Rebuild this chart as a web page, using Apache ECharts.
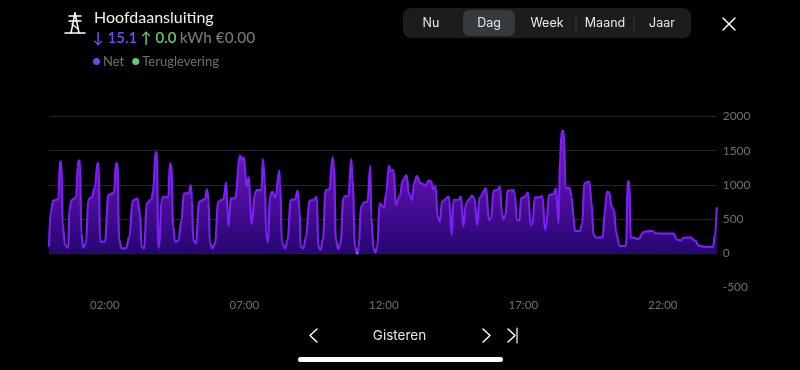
<!DOCTYPE html>
<html><head><meta charset="utf-8">
<style>html,body{margin:0;padding:0;background:#000}#c{width:800px;height:370px}</style>
<script src="https://cdn.jsdelivr.net/npm/echarts@6/dist/echarts.min.js"></script>
</head><body><div id="c"></div>
<script>
const tickMinutes = [120,420,720,1020,1320];
const tickLabels = ['02:00','07:00','12:00','17:00','22:00'];
const netMinutes = [0,3.5,9,20,23.6,26.5,29.4,34.4,41.5,43.7,48.7,58,63,66.6,69.5,73.8,79.5,84.6,91.7,98.9,104,106.8,109.7,120.4,127.6,139.8,144,147,151,156,165.6,172.8,180,190,195.7,199,205,210,220.8,224,229,232,235,237,242,246,256.6,260,263,267,271,278,285,290,301,305,307.6,310,316,323,335,340,343,346,352,357,364,375,381,384,386,391,400,411,415,419,425,429,436,443,447,457,460,464,467,471,475,480,487,495,497,501,508,513,520,529,535,539,541,547,553,560,569,576,579,584,589,595,603,610,613,617,622,627,633,637,644,650,653,658,663,666,671,678,685,691,693,698,702,706,711,721,725,731,735,741,746,754,761,769,774,781,785,791,798,805,810,816,821,827,831,836,841,845,860,866,870,880,886,891,897,902,910,915,921,926,940,946,951,956,964,970,974,977,982,986,999,1002,1006,1012,1015,1024,1030,1036,1040,1045,1053,1061,1067,1070,1075,1085,1090,1096,1099,1103,1107,1111,1119,1124,1128,1131,1142,1147,1151,1162,1167,1171,1178,1191,1195,1200,1205,1210,1215,1220,1227,1241,1245,1248,1251,1268,1278,1286,1298,1305,1325,1342,1352,1359,1364,1379,1390,1397,1407,1428,1433,1436];
const netWatts = [97,584,769,789,1339,1339,438,122,83,633,779,818,1354,1354,292,83,146,789,818,974,1315,1315,170,170,852,886,1315,1315,195,73,73,244,769,799,584,97,73,730,794,925,1476,1476,83,97,779,828,818,1315,1290,390,170,185,487,877,877,998,779,195,146,755,789,935,779,146,73,146,755,789,1032,584,399,804,804,1427,1364,1403,974,1110,429,877,925,925,1378,1071,292,156,828,901,813,1208,1023,146,73,195,779,789,916,633,97,73,244,769,779,828,97,49,195,925,935,1403,1266,195,63,146,804,838,828,1378,1071,97,-10,97,682,745,755,1281,536,73,15,97,730,667,877,1281,1208,1218,706,828,1071,1144,877,779,1023,1130,1032,1008,984,1062,1057,935,984,536,463,755,828,268,779,779,828,390,730,779,843,804,414,818,950,487,511,916,925,974,584,497,560,916,925,852,487,477,804,828,891,414,438,818,818,838,341,438,852,867,950,448,1412,1792,1792,950,959,828,536,326,326,438,1023,1047,730,268,229,234,584,901,891,682,633,292,107,107,1057,1047,234,209,307,321,326,292,287,292,195,190,224,234,185,112,97,93,292,672];
const returnMinutes = [661,663,665];
const returnWatts = [0,-12,0];

const LATO = 'Lato, "Noto Sans", sans-serif';
const UI = 'Inter, Roboto, sans-serif';
const txt = (x,y,text,color,size,align,family,weight) => ({type:'text',x,y,style:{text,fill:color,font:(weight||400)+' '+size+'px '+(family||LATO),textAlign:align||'left',textVerticalAlign:'middle'},silent:true});
const seg = (pts,w,color) => ({type:'polyline',shape:{points:pts},style:{stroke:color||'#fff',lineWidth:w||1.5,fill:null,lineCap:'round',lineJoin:'round'},silent:true});

const chart = echarts.init(document.getElementById('c'),null,{renderer:'canvas'});
chart.setOption({
  animation:false,
  backgroundColor:'#000',
  grid:{left:49,right:83.3,top:116.5,bottom:82.5},
  legend:{left:88,top:50,itemWidth:7,itemHeight:7,itemGap:8,icon:'circle',selectedMode:false,
    textStyle:{color:'#6f6f6f',fontSize:13,fontFamily:LATO,padding:[0,0,0,-2]},
    data:[{name:'Net',itemStyle:{color:'#7a3ff2'}},{name:'Teruglevering',itemStyle:{color:'#63c77c'}}]},
  xAxis:{type:'value',min:0,max:1436,
    axisLine:{show:false},axisTick:{show:false},splitLine:{show:false},
    axisLabel:{customValues:tickMinutes,color:'#6f6f6f',fontSize:11.5,fontFamily:LATO,margin:12,
      formatter:v=>tickLabels[tickMinutes.indexOf(v)]||''}},
  yAxis:{type:'value',position:'right',min:-500,max:2000,interval:500,
    axisLine:{show:false},axisTick:{show:false},
    splitLine:{showMinLine:false,lineStyle:{color:'#232323',width:1}},
    axisLabel:{color:'#6f6f6f',fontSize:12,fontFamily:LATO,margin:6,align:'left',padding:[0,0,5,0],formatter:v=>String(v)}},
  series:[
    {name:'Net',type:'line',smooth:0.4,smoothMonotone:'x',showSymbol:false,symbol:'none',
      data:netMinutes.map((m,i)=>[m,netWatts[i]]),
      lineStyle:{color:'#7a1ff5',width:2.2},itemStyle:{color:'#7a1ff5'},
      areaStyle:{origin:0,opacity:1,color:new echarts.graphic.LinearGradient(0,0,0,1,[
        {offset:0,color:'#7a18c0'},{offset:0.5,color:'#520f9e'},{offset:1,color:'#24066f'}])}},
    {name:'Teruglevering',type:'line',showSymbol:false,symbol:'none',
      data:returnMinutes.map((m,i)=>[m,returnWatts[i]]),
      lineStyle:{color:'#63c77c',width:1.5},itemStyle:{color:'#63c77c'}}
  ],
  graphic:{elements:[
    // pylon icon
    seg([[65,33],[85,33]],1.5), seg([[69,16],[81,16]],1.5), seg([[69,21],[81,21]],1.5),
    seg([[75,13],[71,33]],1.5), seg([[75,13],[79,33]],1.5), seg([[72,24],[78,29]],1.2),
    // header
    txt(94,17.5,'Hoofdaansluiting','#f2f2f2',16),
    {type:'text',x:92.5,y:38.5,silent:true,style:{
      text:'{a|↓ 15.1} {b|↑ 0.0} {c|kWh €0.00}',textVerticalAlign:'middle',
      rich:{a:{fill:'#7a4bf5',font:'600 15px '+LATO},b:{fill:'#63c77c',font:'600 15px '+LATO},c:{fill:'#777777',font:'500 15.4px '+LATO}}}},
    // segmented control
    {type:'rect',shape:{x:403,y:8,width:288,height:30,r:8},style:{fill:'#1b1c1e'},silent:true},
    {type:'rect',shape:{x:463,y:10,width:52,height:26,r:6},style:{fill:'#363a3f'},silent:true},
    seg([[576,15],[576,31]],1,'#3a3a3c'), seg([[634,15],[634,31]],1,'#3a3a3c'),
    txt(431,23,'Nu','#eaeaea',12.5,'center',UI), txt(489,23,'Dag','#eaeaea',12.5,'center',UI),
    txt(547,23,'Week','#eaeaea',12.5,'center',UI), txt(605,23,'Maand','#eaeaea',12.5,'center',UI),
    txt(662,23,'Jaar','#eaeaea',12.5,'center',UI),
    // close
    seg([[723,18],[735,30]],1.5), seg([[735,18],[723,30]],1.5),
    // footer navigation
    seg([[317,329],[310,335.5],[317,342]],1.5),
    txt(399.5,335.5,'Gisteren','#e8e8e8',13.5,'center',UI),
    seg([[483,329],[490,335.5],[483,342]],1.5),
    seg([[508,329],[515,335.5],[508,342]],1.5), seg([[517,328],[517,343]],1.2),
    {type:'rect',shape:{x:298,y:357,width:205,height:5,r:2.5},style:{fill:'#fff'},silent:true}
  ]}
});
</script></body></html>
